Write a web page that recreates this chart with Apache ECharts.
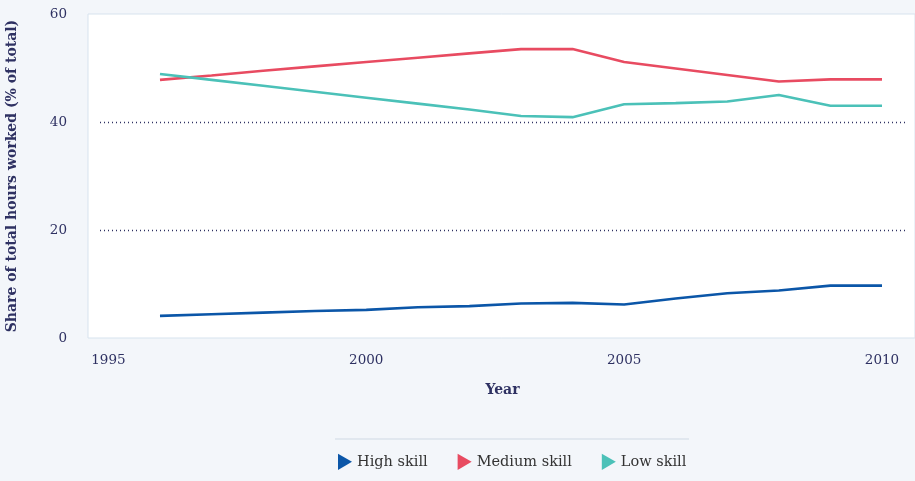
<!DOCTYPE html>
<html><head><meta charset="utf-8">
<script src="https://cdn.jsdelivr.net/npm/echarts@6/dist/echarts.min.js"></script>
<style>html,body{margin:0;padding:0;background:#f3f6fa}#c{width:915px;height:481px}</style>
</head><body><div id="c"></div>
<script>
const years = [1996,1997,1998,1999,2000,2001,2002,2003,2004,2005,2006,2007,2008,2009,2010];
const highSkill = [4.1,4.4,4.7,5.0,5.2,5.7,5.9,6.4,6.5,6.2,7.3,8.3,8.8,9.7,9.7];
const mediumSkill = [47.8,48.6,49.5,50.3,51.1,51.9,52.7,53.5,53.5,51.1,49.9,48.7,47.5,47.9,47.9];
const lowSkill = [48.9,47.8,46.7,45.6,44.5,43.4,42.3,41.1,40.9,43.3,43.5,43.8,45.0,43.0,43.0];
const xTicks = [1995,2000,2005,2010];
const seriesNames = ['High skill','Medium skill','Low skill'];
const colors = ['#0b56a8','#e84b61','#4bc1b8'];

const font = 'DejaVu Serif';
const navy = '#2e3162';
const chart = echarts.init(document.getElementById('c'));
const toPairs = arr => years.map((y,i)=>[y,arr[i]]);
const tri = 'path://M0,0 L12,7 L0,14 Z';
chart.setOption({
  backgroundColor:'#f3f6fa',
  textStyle:{fontFamily:font},
  color: colors,
  grid:[
    {left:88, right:0, top:14, bottom:143, show:true, backgroundColor:'#ffffff', borderColor:'#d7e3ee', borderWidth:1, outerBoundsMode:'none', containLabel:false},
    {left:100, right:10, top:14, bottom:143, outerBoundsMode:'none', containLabel:false}
  ],
  xAxis:[
    {gridIndex:0, type:'value', show:false, min:0, max:1},
    {gridIndex:1, type:'value', min:1994.837, max:2010.446,
     axisLine:{show:false}, axisTick:{show:false}, splitLine:{show:false},
     axisLabel:{customValues:xTicks, formatter:v=>String(v), color:navy, fontSize:13.5, margin:15, fontFamily:font},
     name:'Year', nameLocation:'middle', nameGap:45,
     nameTextStyle:{color:navy, fontWeight:'bold', fontSize:14, fontFamily:font}}
  ],
  yAxis:[
    {gridIndex:0, type:'value', show:false, min:0, max:1},
    {gridIndex:1, type:'value', min:0, max:60, interval:20,
     axisLine:{show:false}, axisTick:{show:false},
     splitLine:{show:true, lineStyle:{type:[1,3], width:1.3, color:['transparent',navy,navy,'transparent']}},
     axisLabel:{color:navy, fontSize:13.5, margin:33, fontFamily:font},
     name:'Share of total hours worked (% of total)', nameLocation:'middle', nameGap:81,
     nameTextStyle:{color:navy, fontWeight:'bold', fontSize:14, fontFamily:font}}
  ],
  legend:{
    bottom:6, left:333, itemGap:30, itemWidth:14, itemHeight:17,
    icon: tri,
    textStyle:{color:'#333333', fontSize:14.5, fontFamily:font},
    data: seriesNames
  },
  graphic:[{type:'line', shape:{x1:335,y1:439,x2:689,y2:439}, style:{stroke:'#cfd9e4', lineWidth:1}}],
  series:[
    {name:seriesNames[0], type:'line', xAxisIndex:1, yAxisIndex:1, data:toPairs(highSkill), showSymbol:false, lineStyle:{width:2.6}},
    {name:seriesNames[1], type:'line', xAxisIndex:1, yAxisIndex:1, data:toPairs(mediumSkill), showSymbol:false, lineStyle:{width:2.6}},
    {name:seriesNames[2], type:'line', xAxisIndex:1, yAxisIndex:1, data:toPairs(lowSkill), showSymbol:false, lineStyle:{width:2.6}}
  ]
});
</script></body></html>
